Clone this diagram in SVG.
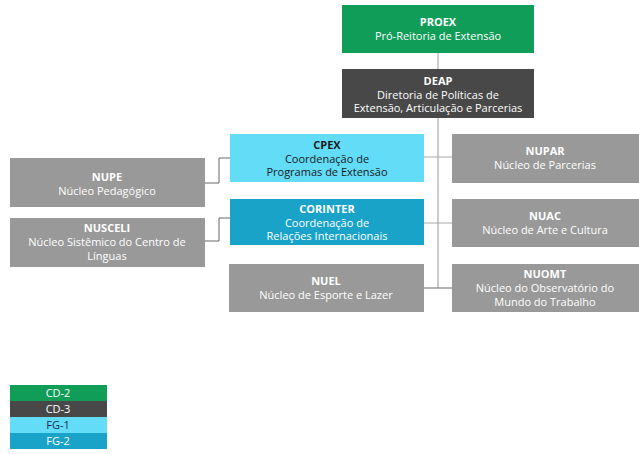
<svg xmlns="http://www.w3.org/2000/svg" width="639" height="454" viewBox="0 0 639 454">
<style>
text{font-family:"Open Sans","Noto Sans","Liberation Sans",sans-serif;font-size:11px;text-anchor:middle;fill:#fff}
.b{font-weight:bold}
.dk{fill:#1a1a1a}
.g{fill:#999999}
.ln{fill:none;stroke:#aaaaaa;stroke-width:1.2}
.ln2{fill:none;stroke:#666666;stroke-width:1}
.lg{font-size:11px}
</style>
<rect width="639" height="454" fill="#ffffff"/>
<g id="connectors">
<path class="ln" d="M438,53V69M438,118V288"/>
<path class="ln" d="M424,157H452M424,223H452"/>
<path class="ln2" d="M424,288H452"/>
<path class="ln2" d="M205,183H219V158H230M205,241H219V218H230"/>
</g>
<g id="proex"><rect x="342" y="5" width="192" height="48" fill="#0f9d58"/><text x="438" y="26" class="b">PROEX</text><text x="438" y="40">Pró-Reitoria de Extensão</text></g>
<g id="deap"><rect x="342" y="69" width="192" height="49" fill="#484848"/><text x="438" y="85" class="b">DEAP</text><text x="438" y="98.5">Diretoria de Políticas de</text><text x="438" y="112">Extensão, Articulação e Parcerias</text></g>
<g id="cpex"><rect x="230" y="134" width="194" height="48" fill="#62dcf7"/><text x="327" y="149" class="b dk">CPEX</text><text x="327" y="162.5" class="dk">Coordenação de</text><text x="327" y="176" class="dk">Programas de Extensão</text></g>
<g id="corinter"><rect x="230" y="199" width="194" height="46" fill="#19a3c8"/><text x="327" y="213" class="b">CORINTER</text><text x="327" y="226.5">Coordenação de</text><text x="327" y="240">Relações Internacionais</text></g>
<g id="nuel"><rect x="229" y="264" width="195" height="48" class="g"/><text x="326" y="285" class="b">NUEL</text><text x="326" y="299">Núcleo de Esporte e Lazer</text></g>
<g id="nupar"><rect x="452" y="134" width="187" height="49" class="g"/><text x="545" y="155" class="b">NUPAR</text><text x="545" y="169">Núcleo de Parcerias</text></g>
<g id="nuac"><rect x="452" y="199" width="187" height="48" class="g"/><text x="545" y="220" class="b">NUAC</text><text x="545" y="234">Núcleo de Arte e Cultura</text></g>
<g id="nuomt"><rect x="452" y="264" width="187" height="48" class="g"/><text x="545" y="278" class="b">NUOMT</text><text x="545" y="292">Núcleo do Observatório do</text><text x="545" y="306">Mundo do Trabalho</text></g>
<g id="nupe"><rect x="10" y="158" width="195" height="49" class="g"/><text x="107" y="181" class="b">NUPE</text><text x="107" y="195">Núcleo Pedagógico</text></g>
<g id="nusceli"><rect x="10" y="218" width="195" height="49" class="g"/><text x="107" y="232" class="b">NUSCELI</text><text x="107" y="246">Núcleo Sistêmico do Centro de</text><text x="107" y="260">Línguas</text></g>
<g id="legend">
<rect x="10" y="385" width="97" height="16" fill="#0f9d58"/><text x="58" y="397" class="lg">CD-2</text>
<rect x="10" y="401" width="97" height="16" fill="#484848"/><text x="58" y="413" class="lg">CD-3</text>
<rect x="10" y="417" width="97" height="16" fill="#62dcf7"/><text x="58" y="429" class="lg" style="fill:#1a2a55">FG-1</text>
<rect x="10" y="433" width="97" height="16" fill="#19a3c8"/><text x="58" y="445" class="lg">FG-2</text>
</g>
</svg>
